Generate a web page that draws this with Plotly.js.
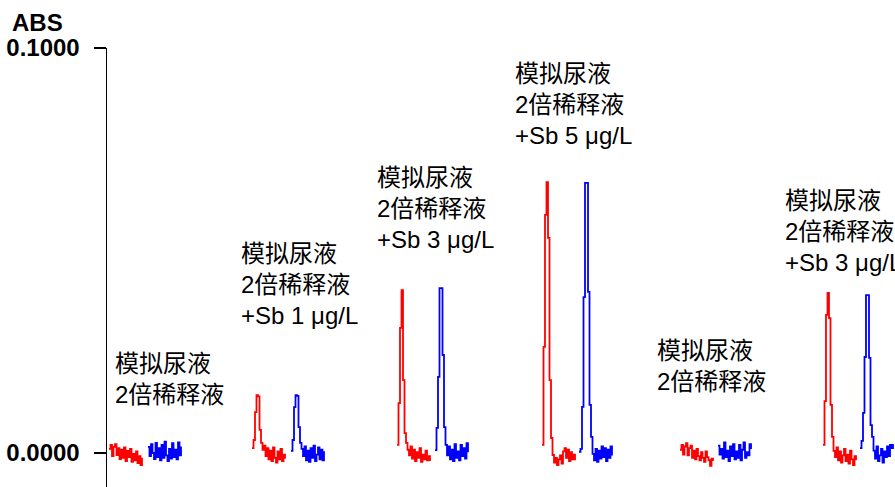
<!DOCTYPE html>
<html>
<head>
<meta charset="utf-8">
<script src="https://cdn.plot.ly/plotly-3.0.1.min.js"></script>
<style>html,body{margin:0;padding:0;background:#fff;}#chart{width:895px;height:487px;}</style>
</head>
<body>
<div id="chart"></div>
<script>
// Time offsets (s) at which each signal trace starts, and sampling step
const redStart  = [2, 145, 290, 435, 573, 716];
const blueStart = [41, 184, 328, 472, 611, 753];
const step = 1.5;

// Absorbance signals (ABS), red = first replicate, blue = second replicate
const red1 = [0.0010, 0.0020, -0.0008, 0.0015, 0.0022, -0.0005, 0.0012, -0.0015, 0.0008, -0.0012, 0.0014, -0.0020, 0.0005, -0.0010, 0.0010, -0.0022, -0.0002, -0.0018, 0.0004, -0.0025, -0.0008, -0.0030, -0.0012];
const blue1 = [0.0015, -0.0008, 0.0022, 0.0000, -0.0015, 0.0025, -0.0010, 0.0012, -0.0018, 0.0020, -0.0012, 0.0028, -0.0006, -0.0020, 0.0010, -0.0014, 0.0024, -0.0010, 0.0008, -0.0016, 0.0026, -0.0006, 0.0016];

const red2 = [0.0012, 0.0032, 0.0101, 0.0143, 0.0140, 0.0057, 0.0025, 0.0008, 0.0018, -0.0008, 0.0012, -0.0016, 0.0006, -0.0020, 0.0014, -0.0012, -0.0024, 0.0004, -0.0016, 0.0010, -0.0020, -0.0004, -0.0014];
const blue2 = [0.0005, 0.0032, 0.0113, 0.0143, 0.0141, 0.0064, 0.0025, 0.0010, -0.0008, 0.0016, -0.0018, 0.0006, -0.0022, 0.0012, -0.0012, 0.0018, -0.0020, -0.0004, 0.0014, -0.0016, 0.0008, -0.0018, 0.0004];

const red3 = [0.0020, 0.0123, 0.0309, 0.0402, 0.0180, 0.0049, 0.0025, 0.0008, -0.0006, 0.0016, -0.0014, 0.0008, -0.0020, 0.0002, -0.0012, 0.0012, -0.0022, -0.0004, -0.0016, 0.0006, -0.0018, -0.0008, -0.0020];
const blue3 = [0.0007, 0.0062, 0.0188, 0.0407, 0.0407, 0.0242, 0.0064, 0.0020, -0.0006, 0.0016, -0.0016, 0.0008, -0.0020, 0.0022, -0.0012, 0.0004, -0.0018, 0.0020, -0.0008, 0.0012, -0.0014, 0.0024, 0.0002];

const red4 = [0.0020, 0.0262, 0.0588, 0.0669, 0.0531, 0.0180, 0.0037, -0.0005, -0.0024, -0.0012, -0.0030, -0.0016, -0.0006, -0.0026, 0.0004, 0.0012, -0.0012, 0.0008, -0.0020, 0.0002, -0.0016, -0.0004, -0.0018];
const blue4 = [0.0003, 0.0010, 0.0114, 0.0385, 0.0667, 0.0667, 0.0398, 0.0119, 0.0040, -0.0002, -0.0018, 0.0010, -0.0022, 0.0006, -0.0014, 0.0016, -0.0010, 0.0012, -0.0020, 0.0008, -0.0012, 0.0016, -0.0006];

const red5 = [0.0008, 0.0020, -0.0004, 0.0016, 0.0024, -0.0006, 0.0012, 0.0018, -0.0012, 0.0006, -0.0016, 0.0010, -0.0008, -0.0018, 0.0002, -0.0012, -0.0022, 0.0004, -0.0010, -0.0018, -0.0032, -0.0014, -0.0020];
const blue5 = [0.0018, -0.0004, 0.0010, -0.0014, 0.0026, -0.0010, 0.0006, -0.0020, 0.0016, -0.0008, 0.0022, -0.0016, 0.0004, -0.0012, 0.0020, -0.0018, 0.0008, 0.0026, -0.0012, 0.0002, -0.0006, 0.0022, 0.0010];

const red6 = [0.0020, 0.0128, 0.0341, 0.0395, 0.0333, 0.0119, 0.0040, 0.0005, -0.0010, 0.0014, -0.0018, 0.0004, -0.0024, -0.0006, 0.0010, -0.0020, -0.0004, -0.0026, 0.0006, -0.0016, -0.0030, -0.0008, -0.0018];
const blue6 = [0.0012, 0.0030, 0.0099, 0.0237, 0.0390, 0.0390, 0.0235, 0.0069, 0.0040, 0.0006, -0.0014, 0.0016, -0.0020, -0.0006, 0.0010, -0.0024, 0.0004, -0.0010, 0.0016, -0.0008, 0.0020, 0.0012, 0.0022];

const redSeries  = [red1, red2, red3, red4, red5, red6];
const blueSeries = [blue1, blue2, blue3, blue4, blue5, blue6];

// Sample labels
const labels = [
  "模拟尿液<br>2倍稀释液",
  "模拟尿液<br>2倍稀释液<br>+Sb 1 μg/L",
  "模拟尿液<br>2倍稀释液<br>+Sb 3 μg/L",
  "模拟尿液<br>2倍稀释液<br>+Sb 5 μg/L",
  "模拟尿液<br>2倍稀释液",
  "模拟尿液<br>2倍稀释液<br>+Sb 3 μg/L"
];
const labelX = [6, 132, 268, 406, 548, 676];
const labelY = [0.0260, 0.0531, 0.0719, 0.0975, 0.0291, 0.0662];

const tickVals = [0, 0.1];
const tickText = ["0.0000", "0.1000"];

const traces = [];
function addTrace(start, ys, color) {
  traces.push({
    x: ys.map((_, i) => start + i * step),
    y: ys,
    type: 'scatter',
    mode: 'lines',
    line: {color: color, width: 1.8, shape: 'hv'},
    hoverinfo: 'skip',
    showlegend: false
  });
}
for (let g = 0; g < redSeries.length; g++) {
  addTrace(redStart[g], redSeries[g], '#ff0000');
  addTrace(blueStart[g], blueSeries[g], '#0000ff');
}

const font = 'Liberation Sans, Arial, "Noto Sans CJK SC", sans-serif';
const annotations = labels.map((t, i) => ({
  x: labelX[i], y: labelY[i], xref: 'x', yref: 'y',
  text: t, showarrow: false, xanchor: 'left', yanchor: 'top', align: 'left',
  font: {family: font, size: 24, color: '#000'}
}));
annotations.push({
  x: (10 - 107) / 788, y: (487 - 22) / 439, xref: 'paper', yref: 'paper',
  xanchor: 'left', yanchor: 'middle', text: '<b>ABS</b>',
  showarrow: false, font: {family: font, size: 24, color: '#000'}
});

const layout = {
  width: 895, height: 487,
  margin: {l: 107, r: 0, t: 48, b: 0, pad: 0},
  paper_bgcolor: '#fff', plot_bgcolor: '#fff',
  xaxis: {range: [0, 788], visible: false, fixedrange: true},
  yaxis: {
    range: [-0.0084, 0.1],
    showline: true, linecolor: '#000', linewidth: 1.5,
    showgrid: false, zeroline: false,
    tickvals: tickVals, ticktext: tickText,
    ticks: 'outside', ticklen: 12, tickwidth: 1.5, tickcolor: '#000',
    ticklabelstandoff: 9,
    tickfont: {family: font, size: 24, color: '#000', weight: 'bold'},
    fixedrange: true
  },
  annotations: annotations,
  showlegend: false
};

Plotly.newPlot('chart', traces, layout, {staticPlot: true, displayModeBar: false});
</script>
</body>
</html>
